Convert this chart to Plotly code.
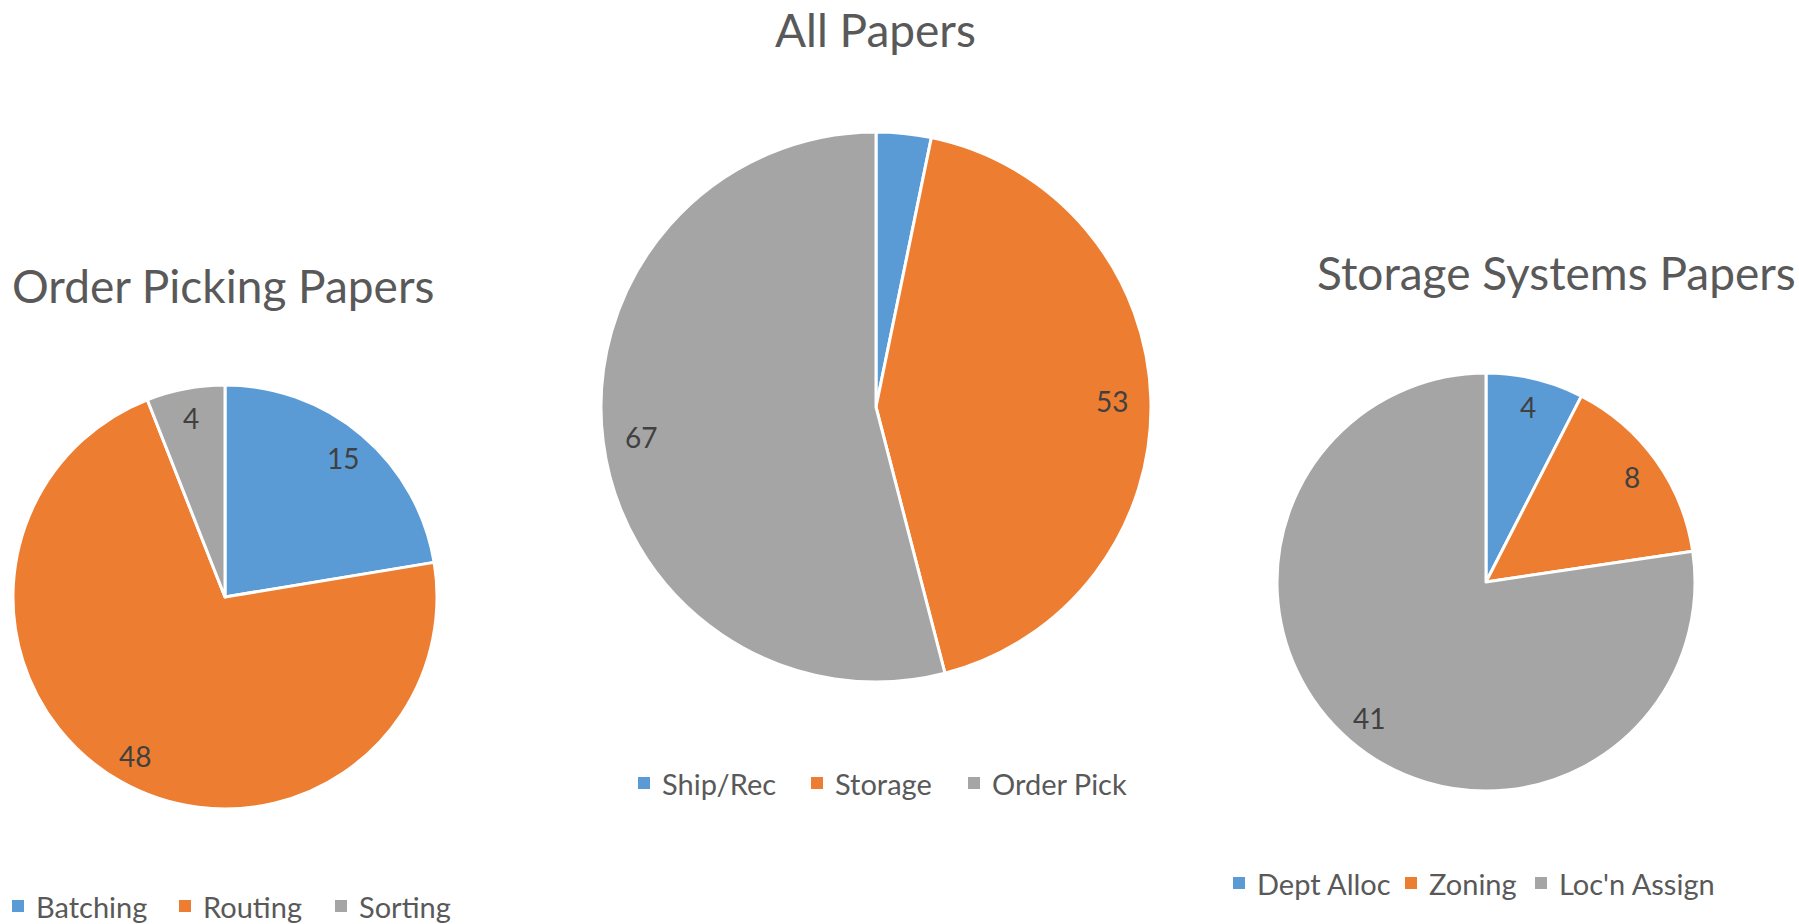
import math
import plotly.graph_objects as go

W, H = 1799, 924

# ---- data ----
order_categories = ["Batching", "Routing", "Sorting"]
order_values = [15, 48, 4]
all_categories = ["Ship/Rec", "Storage", "Order Pick"]
all_values = [4, 53, 67]
storage_categories = ["Dept Alloc", "Zoning", "Loc'n Assign"]
storage_values = [4, 8, 41]

titles = ["Order Picking Papers", "All Papers", "Storage Systems Papers"]
colors = ["#5B9BD5", "#ED7D31", "#A5A5A5"]

# ---- layout (pixels) ----
FONT = "Lato, 'Open Sans', sans-serif"
TEXT_COLOR = "#595959"
LABEL_COLOR = "#404040"

pies = [
    dict(cats=order_categories, vals=order_values, title=titles[0],
         cx=225, cy=597, r=212, title_x=223, title_y=285,
         legend_y=906, legend_sq=[12, 179, 335], show=[True, True, True]),
    dict(cats=all_categories, vals=all_values, title=titles[1],
         cx=876, cy=407, r=275, title_x=875, title_y=29,
         legend_y=783, legend_sq=[638, 811, 968], show=[False, True, True]),
    dict(cats=storage_categories, vals=storage_values, title=titles[2],
         cx=1486, cy=582, r=209, title_x=1556, title_y=272,
         legend_y=883, legend_sq=[1233, 1405, 1535], show=[True, True, True]),
]

LABEL_RATIO = 0.86
SQ = 12

fig = go.Figure()
annotations = []
shapes = []

for p in pies:
    cx, cy, r = p["cx"], p["cy"], p["r"]
    fig.add_trace(go.Pie(
        labels=p["cats"], values=p["vals"],
        sort=False, direction="clockwise", rotation=0,
        marker=dict(colors=colors, line=dict(color="white", width=3)),
        textinfo="none", showlegend=False, hole=0,
        domain=dict(x=[(cx - r) / W, (cx + r) / W],
                    y=[1 - (cy + r) / H, 1 - (cy - r) / H]),
    ))
    total = sum(p["vals"])
    cum = 0
    for v, show in zip(p["vals"], p["show"]):
        theta = 2 * math.pi * (cum + v / 2) / total
        cum += v
        if not show:
            continue
        lx = cx + LABEL_RATIO * r * math.sin(theta)
        ly = cy - LABEL_RATIO * r * math.cos(theta)
        annotations.append(dict(
            x=lx / W, y=1 - ly / H, xref="paper", yref="paper",
            text=str(v), showarrow=False, xanchor="center", yanchor="middle",
            font=dict(family=FONT, size=28, color=LABEL_COLOR)))
    # title
    annotations.append(dict(
        x=p["title_x"] / W, y=1 - p["title_y"] / H, xref="paper", yref="paper",
        text=p["title"], showarrow=False, xanchor="center", yanchor="middle",
        borderpad=0,
        font=dict(family=FONT, size=46, color=TEXT_COLOR)))
    # legend
    ly = p["legend_y"]
    for cat, col, sx in zip(p["cats"], colors, p["legend_sq"]):
        shapes.append(dict(type="rect", xref="paper", yref="paper",
                           x0=sx / W, x1=(sx + SQ) / W,
                           y0=1 - (ly + SQ / 2) / H, y1=1 - (ly - SQ / 2) / H,
                           fillcolor=col, line=dict(width=0)))
        annotations.append(dict(
            x=(sx + SQ + 10) / W, y=1 - ly / H, xref="paper", yref="paper",
            text=cat, showarrow=False, xanchor="left", yanchor="middle",
            font=dict(family=FONT, size=29, color=TEXT_COLOR)))

fig.update_layout(
    width=W, height=H,
    margin=dict(l=0, r=0, t=0, b=0),
    paper_bgcolor="white", plot_bgcolor="white",
    annotations=annotations, shapes=shapes,
    showlegend=False,
)

fig.write_html("out.html")
